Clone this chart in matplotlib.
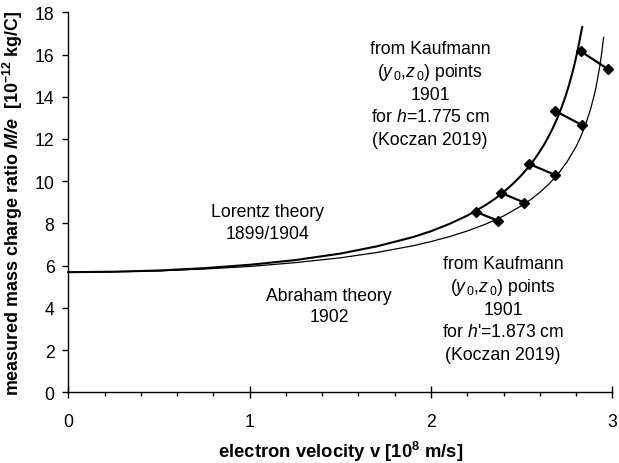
import matplotlib
matplotlib.use("Agg")
import matplotlib.pyplot as plt
from matplotlib.ticker import MultipleLocator

# Theory curves (v in 1e8 m/s, M/e in 1e-12 kg/C)
lorentz_v = [0, 0.25, 0.5, 0.75, 1.0, 1.25, 1.5, 1.7, 1.9, 2.0, 2.1, 2.2, 2.3, 2.35,
             2.4, 2.45, 2.5, 2.55, 2.575, 2.6, 2.625, 2.65, 2.675, 2.7, 2.72, 2.74,
             2.76, 2.78, 2.795, 2.81, 2.825, 2.834]
lorentz_me = [5.69, 5.71, 5.77, 5.88, 6.04, 6.26, 6.57, 6.91, 7.35, 7.63, 7.97, 8.37,
              8.86, 9.15, 9.48, 9.86, 10.29, 10.80, 11.09, 11.41, 11.75, 12.14, 12.57,
              13.05, 13.49, 13.97, 14.52, 15.14, 15.66, 16.25, 16.91, 17.30]

abraham_v = [0, 0.25, 0.5, 0.75, 1.0, 1.25, 1.5, 1.7, 1.9, 2.0, 2.1, 2.2, 2.3, 2.4,
             2.5, 2.55, 2.6, 2.65, 2.7, 2.75, 2.8, 2.825, 2.85, 2.88, 2.9, 2.91,
             2.93, 2.94, 2.952]
abraham_me = [5.69, 5.71, 5.75, 5.84, 5.96, 6.14, 6.37, 6.62, 6.94, 7.14, 7.37, 7.64,
              7.96, 8.35, 8.84, 9.13, 9.47, 9.86, 10.33, 10.91, 11.64, 12.09, 12.62,
              13.41, 14.07, 14.45, 15.39, 15.98, 16.81]

# Kaufmann (y0, z0) points, h = 1.775 cm and h' = 1.873 cm
kauf_h_v = [2.247, 2.385, 2.541, 2.684, 2.826]
kauf_h_me = [8.55, 9.45, 10.82, 13.33, 16.15]
kauf_hp_v = [2.372, 2.514, 2.684, 2.833, 2.978]
kauf_hp_me = [8.12, 8.99, 10.30, 12.66, 15.30]

plt.rcParams['font.family'] = 'Liberation Sans'
plt.rcParams['font.size'] = 12.5
plt.rcParams['mathtext.fontset'] = 'custom'
plt.rcParams['mathtext.rm'] = 'Liberation Sans'
plt.rcParams['mathtext.it'] = 'Liberation Sans:italic'
plt.rcParams['mathtext.bf'] = 'Liberation Sans:bold'
plt.rcParams['mathtext.bfit'] = 'Liberation Sans:italic:bold'

fig = plt.figure(figsize=(6.19, 4.64), dpi=100)
ax = fig.add_axes([0.1103, 0.1524, 0.8789, 0.8189])

ax.plot(lorentz_v, lorentz_me, color='black', lw=1.5, clip_on=False)
ax.plot(abraham_v, abraham_me, color='black', lw=0.9, clip_on=False)

# connect each pair of points
for v1, m1, v2, m2 in zip(kauf_h_v, kauf_h_me, kauf_hp_v, kauf_hp_me):
    ax.plot([v1, v2], [m1, m2], color='black', lw=1.6, clip_on=False)
ax.plot(kauf_h_v, kauf_h_me, 'D', color='black', ms=5, clip_on=False)
ax.plot(kauf_hp_v, kauf_hp_me, 'D', color='black', ms=5, clip_on=False)


def stack(x, y_top, lines, step=1.07):
    for i, line in enumerate(lines):
        ax.text(x, y_top - i * step, line, ha='center', va='center', fontsize=12.7)


stack(1.096, 8.55, ["Lorentz theory", "1899/1904"], step=1.05)
stack(1.438, 4.57, ["Abraham theory", "1902"], step=1.0)
stack(1.995, 16.27, ["from Kaufmann", r"($y_{\,0}$,$z_{\,0}$) points", "1901",
                     r"for $h$=1.775 cm", "(Koczan 2019)"])
stack(2.398, 6.08, ["from Kaufmann", r"($y_{\,0}$,$z_{\,0}$) points", "1901",
                    r"for $h$'=1.873 cm", "(Koczan 2019)"])

ax.set_xlim(0, 3)
ax.set_ylim(0, 18)
ax.xaxis.set_major_locator(MultipleLocator(1))
ax.xaxis.set_minor_locator(MultipleLocator(0.2))
ax.yaxis.set_major_locator(MultipleLocator(2))

for side in ['top', 'right']:
    ax.spines[side].set_visible(False)
for side in ['left', 'bottom']:
    ax.spines[side].set_linewidth(1.0)

ax.tick_params(axis='x', which='major', direction='inout', length=8, width=1.0,
               pad=11, labelsize=12.7)
ax.tick_params(axis='x', which='minor', direction='out', length=3, width=1.0)
ax.tick_params(axis='y', which='major', direction='out', length=4, width=1.0,
               pad=6, labelsize=12.7)

ax.set_xlabel(r"electron velocity v [10$^{\mathbf{8}}$ m/s]", fontweight='bold',
              fontsize=13.3, va='center')
ax.xaxis.set_label_coords(0.5, -0.155)
ax.set_ylabel(r"measured mass charge ratio $\mathbfit{M/e}$  [10$^{\mathbf{-12}}$ kg/C]",
              fontweight='bold', fontsize=12.9, va='center')
ax.yaxis.set_label_coords(-0.102, 0.5)

fig.savefig('out.png', dpi=100)
